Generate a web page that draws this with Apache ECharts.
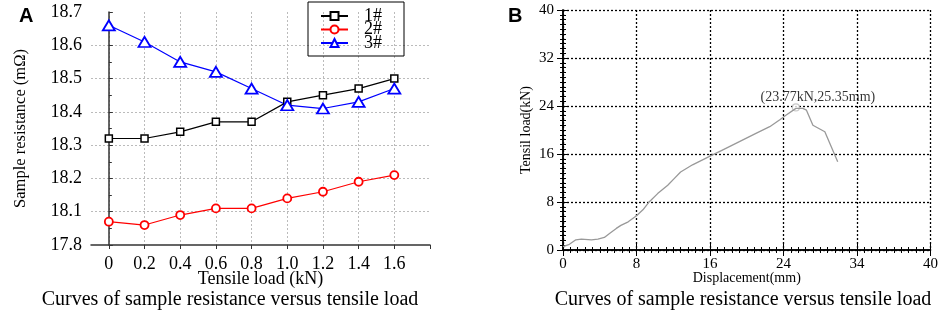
<!DOCTYPE html>
<html>
<head>
<meta charset="utf-8">
<script src="https://cdn.jsdelivr.net/npm/echarts@6/dist/echarts.min.js"></script>
<style>
  html, body { margin: 0; padding: 0; background: #fff; }
  #chart { width: 941px; height: 313px; }
</style>
</head>
<body>
<div id="chart"></div>
<script>
// panel A: resistance vs tensile load
const loads = [0, 0.2, 0.4, 0.6, 0.8, 1.0, 1.2, 1.4, 1.6]
const loadTicks = [0, 0.2, 0.4, 0.6, 0.8, 1.0, 1.2, 1.4, 1.6, 1.8]
const loadLabels = ['0', '0.2', '0.4', '0.6', '0.8', '1.0', '1.2', '1.4', '1.6']
const sample1 = [18.32, 18.32, 18.34, 18.37, 18.37, 18.43, 18.45, 18.47, 18.50]
const sample2 = [18.07, 18.06, 18.09, 18.11, 18.11, 18.14, 18.16, 18.19, 18.21]
const sample3 = [18.66, 18.61, 18.55, 18.52, 18.47, 18.42, 18.41, 18.43, 18.47]
const resistanceLabels = ['17.8', '18.1', '18.2', '18.3', '18.4', '18.5', '18.6', '18.7']

// panel B: tensile load vs displacement
const displacement = [0, 0.7, 1.4, 2.0, 3.1, 3.8, 4.5, 5.1, 5.8, 6.3, 7.1, 8.0, 8.7, 9.4, 10.3, 11.4, 12.1, 12.8,
  14.1, 15.9, 17.4, 19.2, 21.0, 22.5, 23.6, 24.3, 25.35, 26.1, 26.5, 27.2, 28.5, 29.2, 29.9]
const tensilLoad = [0.55, 0.95, 1.7, 1.8, 1.7, 1.8, 2.1, 2.8, 3.6, 4.1, 4.7, 5.7, 6.7, 8.05, 9.4, 10.8, 11.9, 13.0,
  14.2, 15.55, 16.7, 18.05, 19.45, 20.55, 21.7, 22.5, 23.6, 23.6, 23.3, 20.8, 19.7, 17.2, 14.7]
const peak = [25.35, 23.77]
const displacementLabels = ['0', '8', '16', '24', '34', '40']
const tensilLabels = ['0', '8', '16', '24', '32', '40']

const serif = '"Liberation Serif", "Times New Roman", serif'

function pairs(xs, ys) {
  return xs.map((x, i) => [x, ys[i]])
}

const chart = echarts.init(document.getElementById('chart'))

const option = {
  backgroundColor: '#fff',
  animation: false,
  textStyle: { fontFamily: serif },
  grid: [
    { left: 91, right: 511, top: 12, bottom: 68 },
    { left: 563, right: 10, top: 10, bottom: 63 }
  ],
  title: [
    { text: 'A', left: 14, top: 1, textStyle: { fontFamily: '"Liberation Sans", Arial, sans-serif', fontWeight: 'bold', fontSize: 20, color: '#000' } },
    { text: 'B', left: 503, top: 1, textStyle: { fontFamily: '"Liberation Sans", Arial, sans-serif', fontWeight: 'bold', fontSize: 20, color: '#000' } },
    { text: 'Curves of sample resistance versus tensile load', left: 225, top: 285, textAlign: 'center', textStyle: { fontFamily: serif, fontWeight: 'normal', fontSize: 20, color: '#000' } },
    { text: 'Curves of sample resistance versus tensile load', left: 738, top: 285, textAlign: 'center', textStyle: { fontFamily: serif, fontWeight: 'normal', fontSize: 20, color: '#000' } }
  ],
  legend: {
    data: ['1#', '2#', '3#'],
    orient: 'vertical',
    left: 308,
    top: 2,
    padding: [5, 22, 4, 12],
    itemWidth: 27,
    itemHeight: 10,
    itemGap: -4.5,
    borderColor: '#000',
    borderWidth: 1,
    textStyle: { fontFamily: serif, fontSize: 18, color: '#000', padding: [0, 0, 0, 11] }
  },
  xAxis: [
    {
      gridIndex: 0,
      type: 'value',
      min: -0.1,
      max: 1.8,
      name: 'Tensile load (kN)',
      nameLocation: 'middle',
      nameGap: 25,
      nameMoveOverlap: false,
      nameTextStyle: { fontSize: 18, color: '#000' },
      axisLine: { lineStyle: { color: '#333', width: 1.5 } },
      axisTick: { show: true, inside: false, length: 4, customValues: loadTicks, lineStyle: { color: '#333' } },
      axisLabel: {
        customValues: loads,
        fontSize: 18,
        color: '#000',
        margin: 10,
        formatter: v => loadLabels[Math.round(v / 0.2)]
      },
      splitLine: { show: true, showMaxLine: false, lineStyle: { color: '#bbb', type: [2, 2] } }
    },
    {
      gridIndex: 1,
      type: 'value',
      min: 0,
      max: 40,
      interval: 8,
      name: 'Displacement(mm)',
      nameLocation: 'middle',
      nameGap: 21,
      nameMoveOverlap: false,
      nameTextStyle: { fontSize: 14, color: '#000' },
      axisLine: { lineStyle: { color: '#000', width: 1.5 } },
      axisTick: { inside: false, length: 6, lineStyle: { color: '#000' } },
      minorTick: { show: true, splitNumber: 10, length: 3, lineStyle: { color: '#000' } },
      axisLabel: { fontSize: 15, color: '#000', margin: 7, formatter: v => displacementLabels[Math.round(v / 8)] },
      splitLine: { show: true, lineStyle: { color: '#000', type: [2, 2], width: 1.3 } }
    },
    {
      gridIndex: 1,
      type: 'value',
      position: 'top',
      min: 0,
      max: 40,
      interval: 8,
      axisLine: { lineStyle: { color: '#000', width: 1.5 } },
      axisTick: { inside: false, length: 6, lineStyle: { color: '#000' } },
      minorTick: { show: true, splitNumber: 10, length: 3, lineStyle: { color: '#000' } },
      axisLabel: { show: false },
      splitLine: { show: false }
    }
  ],
  yAxis: [
    {
      gridIndex: 0,
      type: 'value',
      min: 18.0,
      max: 18.7,
      interval: 0.1,
      name: 'Sample resistance (mΩ)',
      nameLocation: 'middle',
      nameGap: 62,
      nameMoveOverlap: false,
      nameTextStyle: { fontSize: 16.5, color: '#000' },
      axisLine: { show: true, lineStyle: { color: '#333', width: 1.5 } },
      axisTick: { show: true, inside: true, length: 4, lineStyle: { color: '#333' } },
      minorTick: { show: true, splitNumber: 2, length: 3, lineStyle: { color: '#333' } },
      axisLabel: {
        fontSize: 18,
        color: '#000',
        margin: 9,
        formatter: v => resistanceLabels[Math.round((v - 18.0) / 0.1)]
      },
      splitLine: { show: true, showMinLine: false, showMaxLine: false, lineStyle: { color: '#bbb', type: [2, 2] } }
    },
    {
      gridIndex: 1,
      type: 'value',
      min: 0,
      max: 40,
      interval: 8,
      name: 'Tensil load(kN)',
      nameLocation: 'middle',
      nameGap: 30,
      nameMoveOverlap: false,
      nameTextStyle: { fontSize: 14, color: '#000' },
      axisLine: { show: true, lineStyle: { color: '#000', width: 1.5 } },
      axisTick: { show: true, inside: false, length: 6, lineStyle: { color: '#000' } },
      minorTick: { show: true, splitNumber: 10, length: 3, lineStyle: { color: '#000' } },
      axisLabel: { fontSize: 15, color: '#000', margin: 9, formatter: v => tensilLabels[Math.round(v / 8)] },
      splitLine: { show: true, lineStyle: { color: '#000', type: [2, 2], width: 1.3 } }
    },
    {
      gridIndex: 1,
      type: 'value',
      position: 'right',
      min: 0,
      max: 40,
      interval: 8,
      axisLine: { show: true, lineStyle: { color: '#000', width: 1.5 } },
      axisTick: { show: true, inside: false, length: 6, lineStyle: { color: '#000' } },
      minorTick: { show: true, splitNumber: 10, length: 3, lineStyle: { color: '#000' } },
      axisLabel: { show: false },
      splitLine: { show: false }
    }
  ],
  series: [
    {
      name: '1#',
      type: 'line',
      xAxisIndex: 0,
      yAxisIndex: 0,
      data: pairs(loads, sample1),
      symbol: 'rect',
      symbolSize: 7,
      lineStyle: { color: '#000', width: 1.2 },
      itemStyle: { color: '#fff', borderColor: '#000', borderWidth: 1.5 }
    },
    {
      name: '2#',
      type: 'line',
      xAxisIndex: 0,
      yAxisIndex: 0,
      data: pairs(loads, sample2),
      symbol: 'circle',
      symbolSize: 8,
      lineStyle: { color: '#ff0000', width: 1.2 },
      itemStyle: { color: '#fff', borderColor: '#ff0000', borderWidth: 1.8 }
    },
    {
      name: '3#',
      type: 'line',
      xAxisIndex: 0,
      yAxisIndex: 0,
      data: pairs(loads, sample3),
      symbol: 'triangle',
      symbolSize: [12, 10],
      lineStyle: { color: '#0000ff', width: 1.2 },
      itemStyle: { color: '#fff', borderColor: '#0000ff', borderWidth: 1.8 }
    },
    {
      name: 'curve',
      type: 'line',
      xAxisIndex: 1,
      yAxisIndex: 1,
      data: pairs(displacement, tensilLoad),
      showSymbol: false,
      lineStyle: { color: '#999', width: 1.3 }
    },
    {
      name: 'peak',
      type: 'scatter',
      xAxisIndex: 1,
      yAxisIndex: 1,
      data: [peak],
      symbol: 'circle',
      symbolSize: 7,
      itemStyle: { color: '#fff', borderColor: '#bbb', borderWidth: 1.2 },
      label: {
        show: true,
        position: 'top',
        distance: 0,
        offset: [22, 1],
        formatter: '(23.77kN,25.35mm)',
        fontFamily: serif,
        fontSize: 14,
        color: '#000'
      }
    }
  ]
}

chart.setOption(option)
</script>
</body>
</html>
